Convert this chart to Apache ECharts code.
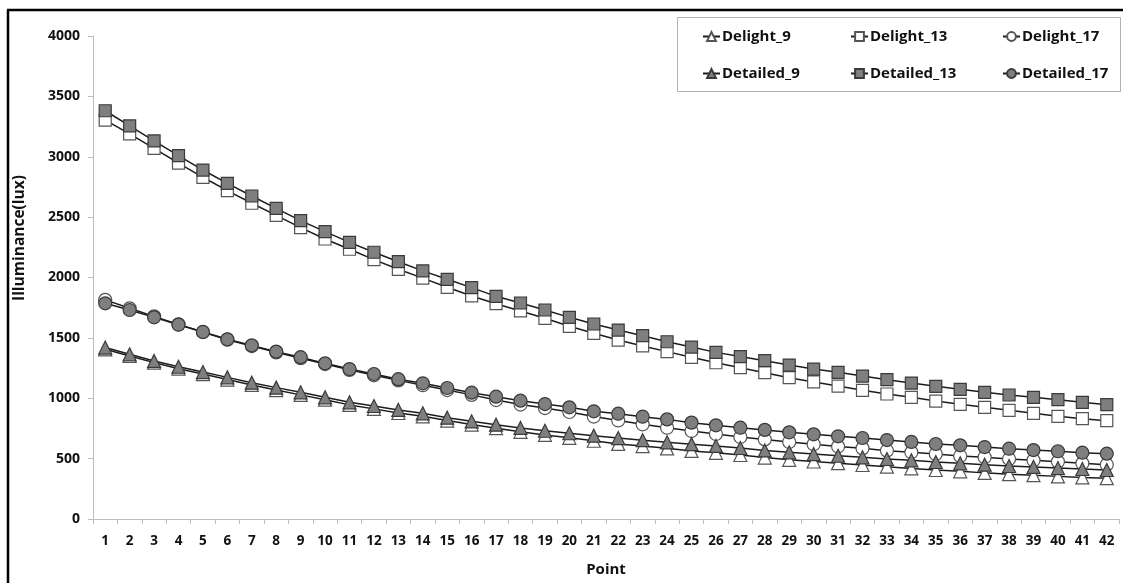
<!DOCTYPE html>
<html>
<head>
<meta charset="utf-8">
<title>Illuminance by point</title>
<script src="https://cdn.jsdelivr.net/npm/echarts@6/dist/echarts.min.js"></script>
<style>
  html, body { margin: 0; padding: 0; background: #fff; }
  #chart { width: 1123px; height: 583px; }
</style>
</head>
<body>
<div id="chart"></div>
<script>
// Measurement points along the room (x axis)
const points = Array.from({ length: 42 }, (_, i) => String(i + 1));

// Illuminance (lux) per point for each model
const delight9 = [1405, 1350, 1295, 1245, 1200, 1155, 1110, 1068, 1028, 988, 945, 912, 878, 850, 815, 782, 752, 722, 696, 672, 648, 622, 604, 585, 564, 548, 530, 509, 490, 476, 462, 447, 433, 419, 406, 395, 382, 371, 363, 353, 344, 338];
const delight13 = [3304, 3189, 3070, 2948, 2830, 2719, 2615, 2515, 2413, 2319, 2234, 2148, 2068, 1995, 1919, 1847, 1783, 1723, 1662, 1596, 1538, 1482, 1433, 1386, 1339, 1294, 1253, 1212, 1170, 1135, 1101, 1066, 1035, 1008, 977, 950, 925, 900, 875, 850, 831, 814];
const delight17 = [1815, 1745, 1678, 1612, 1548, 1485, 1432, 1380, 1332, 1283, 1235, 1190, 1148, 1108, 1068, 1028, 985, 948, 919, 886, 848, 816, 784, 756, 729, 704, 679, 659, 638, 619, 600, 585, 566, 552, 538, 522, 511, 497, 486, 475, 461, 450];
const detailed9 = [1420, 1364, 1309, 1261, 1217, 1173, 1129, 1088, 1049, 1008, 966, 936, 903, 875, 839, 809, 781, 754, 731, 710, 690, 670, 653, 635, 620, 605, 588, 568, 552, 538, 524, 511, 497, 486, 472, 461, 450, 439, 431, 422, 414, 406];
const detailed13 = [3381, 3255, 3131, 3009, 2890, 2780, 2675, 2573, 2471, 2380, 2291, 2209, 2131, 2055, 1985, 1916, 1844, 1789, 1731, 1670, 1615, 1565, 1518, 1468, 1424, 1380, 1345, 1311, 1275, 1242, 1215, 1184, 1154, 1126, 1099, 1074, 1049, 1027, 1008, 988, 966, 947];
const detailed17 = [1786, 1731, 1670, 1609, 1549, 1488, 1438, 1386, 1340, 1289, 1242, 1201, 1158, 1124, 1085, 1046, 1013, 980, 952, 925, 892, 872, 847, 825, 798, 776, 756, 738, 718, 701, 685, 671, 654, 638, 621, 610, 596, 582, 571, 561, 549, 541];

const FONT = '"Open Sans", "Liberation Sans", sans-serif';
const LINE = { color: '#1c1c1c', width: 1.5 };
const openMark = { color: '#ffffff', borderColor: '#555555', borderWidth: 1.2 };
const filledMark = { color: '#7f7f7f', borderColor: '#3a3a3a', borderWidth: 1.2 };

function lineSeries(name, data, symbol, size, mark) {
  return {
    name, type: 'line', data, symbol, symbolSize: size,
    showAllSymbol: true,
    lineStyle: LINE,
    itemStyle: mark,
    emphasis: { disabled: true },
    animation: false
  };
}

function legendColumn(left, names) {
  return {
    orient: 'vertical', left, top: 24, itemGap: 22,
    itemWidth: 17, itemHeight: 11,
    data: names,
    textStyle: { fontFamily: FONT, fontWeight: 'bold', fontSize: 15, color: '#111', padding: [0, 0, 0, -3] },
    selectedMode: false
  };
}

const chart = echarts.init(document.getElementById('chart'));
chart.setOption({
  backgroundColor: '#ffffff',
  animation: false,
  grid: { left: 93, right: 4, top: 36, bottom: 64, containLabel: false },
  legend: [
    legendColumn(697, ['Delight_9', 'Detailed_9']),
    legendColumn(845, ['Delight_13', 'Detailed_13']),
    legendColumn(997, ['Delight_17', 'Detailed_17'])
  ],
  xAxis: {
    type: 'category', data: points, boundaryGap: true,
    axisLine: { lineStyle: { color: '#bdbdbd', width: 1 } },
    axisTick: { show: true, length: 5, lineStyle: { color: '#bdbdbd' } },
    axisLabel: { fontFamily: FONT, fontWeight: 'bold', fontSize: 13.5, color: '#111', margin: 15, interval: 0 },
    splitLine: { show: false },
    name: 'Point', nameLocation: 'middle', nameGap: 43,
    nameTextStyle: { fontFamily: FONT, fontWeight: 'bold', fontSize: 15, color: '#111' }
  },
  yAxis: {
    type: 'value', min: 0, max: 4000, interval: 500,
    axisLine: { show: true, lineStyle: { color: '#bdbdbd', width: 1 } },
    axisTick: { show: true, length: 5, lineStyle: { color: '#bdbdbd' } },
    axisLabel: { fontFamily: FONT, fontWeight: 'bold', fontSize: 14, color: '#111', margin: 13, formatter: v => String(v) },
    splitLine: { show: false }
  },
  graphic: [
    // outer frame (left and top edges)
    { type: 'line', shape: { x1: 8, y1: 10, x2: 8, y2: 583 }, style: { stroke: '#000', lineWidth: 2.5 } },
    { type: 'line', shape: { x1: 7, y1: 10, x2: 1123, y2: 10 }, style: { stroke: '#000', lineWidth: 2.5 } },
    // legend box
    { type: 'rect', shape: { x: 677.5, y: 17.5, width: 443, height: 74 }, style: { fill: 'none', stroke: '#b0b0b0', lineWidth: 1 }, z: 0 },
    // y axis title
    {
      type: 'text', x: 20, y: 238, rotation: Math.PI / 2,
      style: {
        text: 'Illuminance(lux)', fontFamily: FONT, fontWeight: 'bold', fontSize: 15.5,
        fill: '#111', align: 'center', verticalAlign: 'middle'
      }
    }
  ],
  series: [
    lineSeries('Delight_9', delight9, 'triangle', 13, openMark),
    lineSeries('Delight_13', delight13, 'rect', 12, openMark),
    lineSeries('Delight_17', delight17, 'circle', 13, openMark),
    lineSeries('Detailed_9', detailed9, 'triangle', 13, filledMark),
    lineSeries('Detailed_13', detailed13, 'rect', 12, filledMark),
    lineSeries('Detailed_17', detailed17, 'circle', 13, filledMark)
  ]
});
</script>
</body>
</html>
